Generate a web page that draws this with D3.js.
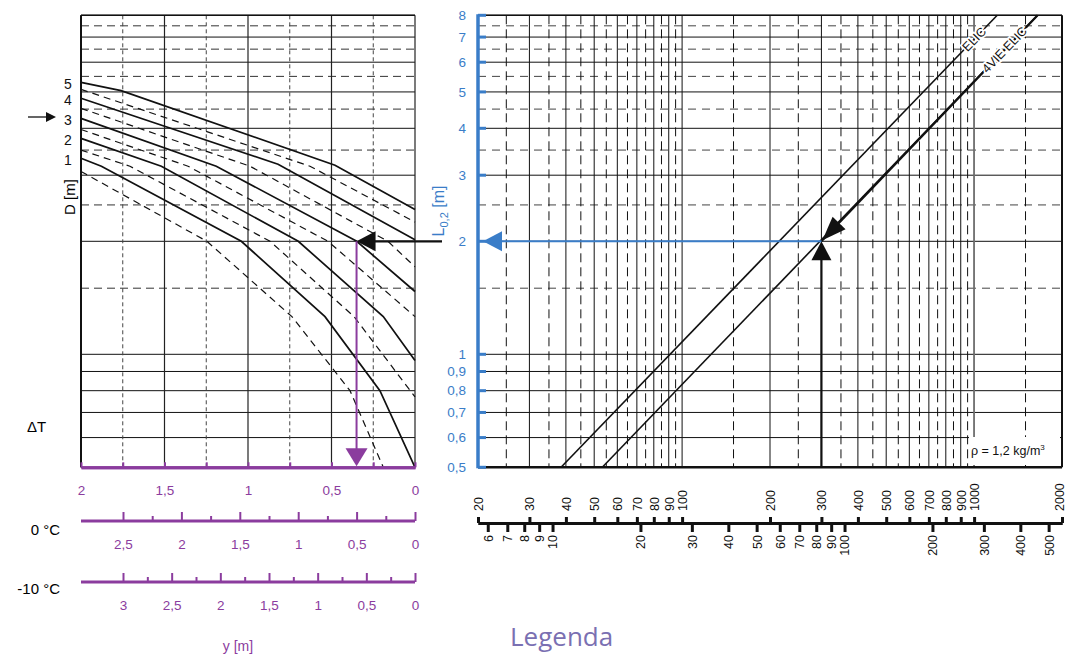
<!doctype html>
<html lang="it">
<head>
<meta charset="utf-8">
<title>nomogramma</title>
<style>
body { margin: 0; background: #fff; }
svg { display: block; font-family: "Liberation Sans", Arial, sans-serif; }
</style>
</head>
<body>
<div id="chart"></div>
<script src="https://cdn.jsdelivr.net/npm/d3@7"></script>
<script>
// ---------------- data
// L0,2 [m] (log axis shared by both panels)
var lSolid = [8, 7, 6, 5, 4, 3, 2, 1, 0.9, 0.8, 0.7, 0.6, 0.5];
var lDashed = [7.5, 6.5, 5.5, 4.5, 3.5, 2.5, 1.5];
var lLabels = ["8", "7", "6", "5", "4", "3", "2", "1", "0,9", "0,8", "0,7", "0,6", "0,5"];
// portata (log axis, right panel)
var qSolid = [30, 40, 50, 60, 70, 80, 90, 100, 200, 300, 400, 500, 600, 700, 800, 900, 1000];
var qDashed = [25, 35, 45, 55, 65, 75, 85, 95, 150, 250, 350, 450, 550, 650, 750, 850, 950, 1500];
var qTopTicks = [20, 30, 40, 50, 60, 70, 80, 90, 100, 200, 300, 400, 500, 600, 700, 800, 900, 1000, 2000];
var qBottomTicks = [6, 7, 8, 9, 10, 20, 30, 40, 50, 60, 70, 80, 90, 100, 200, 300, 400, 500];
var qRatio = 3.6;
// y [m] (left panel)
var ySolid = [2, 1.5, 1, 0.5, 0];
var yDashed = [1.75, 1.25, 0.75, 0.25];
var y0Major = [2.5, 2, 1.5, 1, 0.5, 0];
var y0Minor = [2.25, 1.75, 1.25, 0.75, 0.25];
var y10Major = [3, 2.5, 2, 1.5, 1, 0.5, 0];
var y10Minor = [2.75, 2.25, 1.75, 1.25, 0.75, 0.25];

// curves D [m]: [y, L]
var curveNames = ["5", "4", "3", "2", "1"];
var curvesSolid = [
  [[2.0, 5.30], [1.76, 5.04], [0.479, 3.19], [0, 2.43]],
  [[2.0, 4.81], [0.82, 3.21], [0, 2.02]],
  [[2.0, 4.25], [1.19, 3.17], [0.349, 2.0], [0, 1.47]],
  [[2.0, 3.76], [1.519, 3.17], [0.699, 2.0], [0.19, 1.26], [0, 0.963]],
  [[2.0, 3.33], [1.878, 3.17], [1.04, 2.0], [0.539, 1.26], [0.21, 0.8], [0, 0.5]]
];
var curvesDashed = [
  [[2.0, 5.08], [0.629, 3.17], [0, 2.25]],
  [[2.0, 4.52], [0.988, 3.17], [0.162, 2.0], [0, 1.71]],
  [[2.0, 3.97], [1.359, 3.17], [0.521, 2.0], [0, 1.26]],
  [[2.0, 3.50], [1.707, 3.17], [0.868, 2.0], [0.365, 1.26], [0, 0.77]],
  [[2.0, 3.07], [1.246, 2.0], [0.737, 1.26], [0.389, 0.8], [0.19, 0.5]]
];
// right panel lines: [Q, L]
var lineElica = [[38.5, 0.5], [1200, 8]];
var line4vie = [[53.3, 0.5], [1650, 8]];
var readQ = 300, readL = 2, readY = 0.35;

// ---------------- layout
var W = 1067, H = 655;
var pTop = 15.3, pBot = 467.3;
var xl0 = 81, xl1 = 415, xr0 = 478, xr1 = 1062;
var purple = "#8b3c9e", blue = "#3a7dc8";

var svg = d3.select("#chart").append("svg").attr("width", W).attr("height", H);

var yL = d3.scaleLog().domain([0.5, 8]).range([pBot, pTop]);
var xQ = d3.scaleLog().domain([20, 2000]).range([xr0, xr1]);
var xQb = d3.scaleLog().domain([20 / qRatio, 2000 / qRatio]).range([xr0, xr1]);
var xY = d3.scaleLinear().domain([0, 2]).range([xl1, xl0]);
var xY0 = d3.scaleLinear().domain([0, 2.5]).range([xl1, 123]);
var xY10 = d3.scaleLinear().domain([0, 3]).range([xl1, 123]);
var comma = function(d) { return String(d).replace(".", ","); };

function hLines(g, vals, x0, x1, dash, col) {
  g.selectAll(null).data(vals).enter().append("line")
    .attr("x1", x0).attr("x2", x1)
    .attr("y1", function(d) { return yL(d); }).attr("y2", function(d) { return yL(d); })
    .attr("stroke", col).attr("stroke-width", 1)
    .attr("stroke-dasharray", dash);
}
function vLines(g, vals, sc, dash, col, w) {
  g.selectAll(null).data(vals).enter().append("line")
    .attr("x1", function(d) { return sc(d); }).attr("x2", function(d) { return sc(d); })
    .attr("y1", pTop).attr("y2", pBot)
    .attr("stroke", col).attr("stroke-width", w || 1)
    .attr("stroke-dasharray", dash);
}
function tri(g, tx, ty, ang, len, hw, col) {
  // arrow head, tip at (tx,ty), pointing in direction ang (radians)
  var bx = tx - len * Math.cos(ang), by = ty - len * Math.sin(ang);
  var nx = -Math.sin(ang) * hw, ny = Math.cos(ang) * hw;
  g.append("path")
    .attr("d", "M" + tx + "," + ty + "L" + (bx + nx) + "," + (by + ny) + "L" + (bx - nx) + "," + (by - ny) + "Z")
    .attr("fill", col);
}

//---------------- left panel grid
var gl = svg.append("g");
hLines(gl, lSolid, xl0, xl1, null, "#111");
hLines(gl, lDashed, xl0, xl1, "8,5", "#333");
vLines(gl, ySolid, xY, null, "#222", 1.2);
vLines(gl, yDashed, xY, "4,3", "#444", 1);
gl.append("line").attr("x1", xl0).attr("x2", xl0).attr("y1", pTop).attr("y2", pBot).attr("stroke", "#111").attr("stroke-width", 2);
gl.append("line").attr("x1", xl0).attr("x2", xl1).attr("y1", pTop).attr("y2", pTop).attr("stroke", "#111").attr("stroke-width", 1.5);

var lineL = d3.line().x(function(d) { return xY(d[0]); }).y(function(d) { return yL(d[1]); });
gl.selectAll(null).data(curvesDashed).enter().append("path")
  .attr("d", lineL).attr("fill", "none").attr("stroke", "#111")
  .attr("stroke-width", 1.2).attr("stroke-dasharray", "7,5");
gl.selectAll(null).data(curvesSolid).enter().append("path")
  .attr("d", lineL).attr("fill", "none").attr("stroke", "#111")
  .attr("stroke-width", 1.7);
gl.selectAll(null).data(curvesSolid).enter().append("text")
  .attr("x", 68).attr("y", function(d) { return yL(d[0][1]) + 2; })
  .attr("dy", "0.35em").attr("text-anchor", "middle")
  .attr("font-size", 14).attr("fill", "#111")
  .text(function(d, i) { return curveNames[i]; });

// marker arrow at curve 3
gl.append("line").attr("x1", 28).attr("x2", 48).attr("y1", 117).attr("y2", 117).attr("stroke", "#111").attr("stroke-width", 1.3);
tri(gl, 56, 117, 0, 10, 5, "#111");

gl.append("text").attr("transform", "translate(70,197) rotate(-90)")
  .attr("text-anchor", "middle").attr("dy", "0.35em").attr("font-size", 15).text("D [m]");
gl.append("text").attr("x", 27).attr("y", 432).attr("font-size", 15).text("\u0394T");

// purple axes
var a1 = svg.append("g").attr("transform", "translate(0," + pBot + ")")
  .call(d3.axisTop(xY).tickValues(ySolid).tickSize(5).tickSizeOuter(0).tickFormat(comma));
var a1m = svg.append("g").attr("transform", "translate(0," + pBot + ")")
  .call(d3.axisTop(xY).tickValues(yDashed).tickSize(5).tickSizeOuter(0).tickFormat(""));
var a2 = svg.append("g").attr("transform", "translate(0,521)")
  .call(d3.axisTop(xY0).tickValues(y0Major).tickSize(9).tickSizeOuter(0).tickFormat(comma));
var a2m = svg.append("g").attr("transform", "translate(0,521)")
  .call(d3.axisTop(xY0).tickValues(y0Minor).tickSize(5).tickSizeOuter(0).tickFormat(""));
var a3 = svg.append("g").attr("transform", "translate(0,582)")
  .call(d3.axisTop(xY10).tickValues(y10Major).tickSize(9).tickSizeOuter(0).tickFormat(comma));
var a3m = svg.append("g").attr("transform", "translate(0,582)")
  .call(d3.axisTop(xY10).tickValues(y10Minor).tickSize(5).tickSizeOuter(0).tickFormat(""));
[a1, a1m, a2, a2m, a3, a3m].forEach(function(a) {
  a.select(".domain").attr("stroke", purple).attr("stroke-width", 3);
  a.selectAll(".tick line").attr("stroke", purple).attr("stroke-width", 2);
  a.selectAll(".tick text").attr("fill", purple).attr("font-size", 13.5)
    .attr("font-family", "Liberation Sans, Arial, sans-serif")
    .attr("y", 23).attr("dy", "0.35em");
});
a2.select(".domain").attr("d", "M" + xl0 + ",0H" + xl1);
a3.select(".domain").attr("d", "M" + xl0 + ",0H" + xl1);
a2m.select(".domain").remove();
a3m.select(".domain").remove();

svg.append("text").attr("x", 60).attr("y", 535).attr("text-anchor", "end").attr("font-size", 15).text("0 \u00b0C");
svg.append("text").attr("x", 60).attr("y", 594).attr("text-anchor", "end").attr("font-size", 15).text("-10 \u00b0C");
svg.append("text").attr("x", 238).attr("y", 651).attr("text-anchor", "middle").attr("font-size", 14).attr("fill", purple).text("y [m]");

//---------------- right panel grid
var gr = svg.append("g");
hLines(gr, lSolid, xr0, xr1, null, "#111");
hLines(gr, lDashed, xr0, xr1, "8,6", "#444");
vLines(gr, qSolid, xQ, null, "#111", 1);
vLines(gr, qDashed, xQ, "9,5", "#111", 1);
vLines(gr, [1000], xQ, null, "#777", 1.6);
gr.append("line").attr("x1", xr1).attr("x2", xr1).attr("y1", pTop).attr("y2", pBot).attr("stroke", "#111").attr("stroke-width", 2);
gr.append("line").attr("x1", xr0).attr("x2", xr1).attr("y1", pTop).attr("y2", pTop).attr("stroke", "#111").attr("stroke-width", 1.5);
gr.append("line").attr("x1", xr0).attr("x2", xr1).attr("y1", pBot).attr("y2", pBot).attr("stroke", "#111").attr("stroke-width", 2.5);

// rho box
var rho = gr.append("g");
rho.append("rect").attr("x", 969).attr("y", 437).attr("width", 91).attr("height", 28).attr("fill", "#fff");
var rt = rho.append("text").attr("x", 971).attr("y", 455).attr("font-size", 12.5).attr("fill", "#111");
rt.append("tspan").text("\u03c1 = 1,2 kg/m");
rt.append("tspan").attr("font-size", 8).attr("dy", -5).text("3");

// Elica lines
var lineR = d3.line().x(function(d) { return xQ(d[0]); }).y(function(d) { return yL(d[1]); });
gr.append("path").datum(lineElica).attr("d", lineR).attr("fill", "none").attr("stroke", "#111").attr("stroke-width", 1.6);
gr.append("path").datum(line4vie).attr("d", lineR).attr("fill", "none").attr("stroke", "#111").attr("stroke-width", 1.6);
gr.append("path").datum([line4vie[1], [readQ, readL]]).attr("d", lineR).attr("fill", "none").attr("stroke", "#111").attr("stroke-width", 2.2);

function lineLabel(ln, q, txt) {
  var p0 = [xQ(ln[0][0]), yL(ln[0][1])], p1 = [xQ(ln[1][0]), yL(ln[1][1])];
  var t = (xQ(q) - p0[0]) / (p1[0] - p0[0]);
  var x = p0[0] + t * (p1[0] - p0[0]), y = p0[1] + t * (p1[1] - p0[1]);
  var ang = Math.atan2(p1[1] - p0[1], p1[0] - p0[0]) * 180 / Math.PI;
  gr.append("text").attr("transform", "translate(" + x + "," + y + ") rotate(" + ang + ")")
    .attr("text-anchor", "middle").attr("dy", "0.35em").attr("font-size", 12.5)
    .attr("stroke", "#fff").attr("stroke-width", 3.5).attr("paint-order", "stroke")
    .attr("fill", "#111").text(txt);
}
lineLabel(lineElica, 1000, "ELIC");
lineLabel(line4vie, 1270, "4VIE ELIC");

// reading path: Q -> L -> y
var qx = xQ(readQ), ly = yL(readL), yx = xY(readY);
gr.append("line").attr("x1", qx).attr("x2", qx).attr("y1", pBot).attr("y2", ly + 16).attr("stroke", "#111").attr("stroke-width", 2.2);
tri(gr, qx, ly, -Math.PI / 2, 19, 10, "#111");
var p0 = [xQ(line4vie[0][0]), yL(line4vie[0][1])], p1 = [xQ(line4vie[1][0]), yL(line4vie[1][1])];
tri(gr, qx + 1, ly - 1, Math.atan2(p0[1] - p1[1], p0[0] - p1[0]), 24, 9, "#111");
gr.append("line").attr("x1", qx).attr("x2", xr0 + 20).attr("y1", ly).attr("y2", ly).attr("stroke", blue).attr("stroke-width", 2);
tri(gr, xr0 + 5, ly, Math.PI, 19, 10, blue);

svg.append("line").attr("x1", 442).attr("x2", yx + 16).attr("y1", ly).attr("y2", ly).attr("stroke", "#111").attr("stroke-width", 2.2);
tri(svg, yx, ly, Math.PI, 19, 10, "#111");
svg.append("line").attr("x1", yx).attr("x2", yx).attr("y1", ly).attr("y2", pBot - 15).attr("stroke", purple).attr("stroke-width", 2);
tri(svg, yx, pBot - 1, Math.PI / 2, 18, 11, purple);

// blue L axis
var ga = svg.append("g");
ga.append("line").attr("x1", xr0).attr("x2", xr0).attr("y1", pTop - 1).attr("y2", pBot + 1).attr("stroke", blue).attr("stroke-width", 3.5);
ga.selectAll(null).data(lSolid).enter().append("line")
  .attr("x1", xr0).attr("x2", xr0 + 8)
  .attr("y1", function(d) { return yL(d); }).attr("y2", function(d) { return yL(d); })
  .attr("stroke", blue).attr("stroke-width", 3);
ga.selectAll(null).data(lSolid).enter().append("text")
  .attr("x", 466).attr("y", function(d) { return yL(d); }).attr("dy", "0.35em")
  .attr("text-anchor", "end").attr("font-size", 13.5).attr("fill", blue)
  .text(function(d, i) { return lLabels[i]; });
var lt = ga.append("text").attr("transform", "translate(444,211) rotate(-90)")
  .attr("text-anchor", "middle").attr("font-size", 16).attr("fill", blue);
lt.append("tspan").text("L");
lt.append("tspan").attr("font-size", 11).attr("dy", 4).text("0,2");
lt.append("tspan").attr("dy", -4).text(" [m]");

// bottom Q axes
var axT = svg.append("g").attr("transform", "translate(0,523)")
  .call(d3.axisTop(xQ).tickValues(qTopTicks).tickSize(6).tickSizeOuter(0).tickFormat(d3.format("d")));
var axB = svg.append("g").attr("transform", "translate(0,523)")
  .call(d3.axisBottom(xQb).tickValues(qBottomTicks).tickSize(9).tickSizeOuter(0).tickFormat(d3.format("d")));
[axT, axB].forEach(function(a) {
  a.select(".domain").attr("stroke", "#111").attr("stroke-width", 3);
  a.selectAll(".tick line").attr("stroke", "#111").attr("stroke-width", 3);
  a.selectAll(".tick text").attr("font-size", 12.5).attr("fill", "#111")
    .attr("font-family", "Liberation Sans, Arial, sans-serif")
    .attr("transform", "rotate(-90)").attr("y", 0).attr("dy", "0.35em");
});
axT.selectAll(".tick text").attr("x", 12).attr("text-anchor", "start");
axB.selectAll(".tick text").attr("x", -12).attr("text-anchor", "end");
// keep the last label inside the picture
axT.selectAll(".tick text").filter(function(d) { return d === 2000; }).attr("dy", "0.1em");

svg.append("text").attr("x", 510).attr("y", 646).attr("font-family", "Open Sans, sans-serif")
  .attr("font-size", 26).attr("fill", "#7a70b2").text("Legenda");
</script>
</body>
</html>
